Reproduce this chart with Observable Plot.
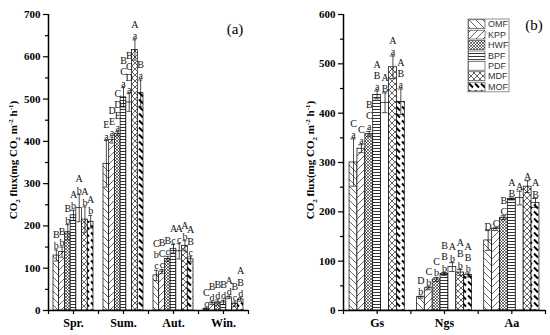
<!DOCTYPE html>
<html><head><meta charset="utf-8">
<script src="https://cdn.jsdelivr.net/npm/d3@7"></script>
<script src="https://cdn.jsdelivr.net/npm/@observablehq/plot@0.6"></script>
<style>
body{margin:0;background:#fff}
#chart{position:relative;width:550px;height:335px;background:#fff}
#chart svg{position:absolute;top:0}
g[aria-label="x-axis tick label"] text, g[aria-label="y-axis tick label"] text{font-weight:bold}
</style>
</head><body><div id="chart"></div>
<script>
// ---- data ----
const series = ["OMF","KPP","HWF","BPF","PDF","MDF","MOF"];
const seasons = ["Spr.","Sum.","Aut.","Win."];
const sprFlux = [130,138,185,225,242,215,210];
const sumFlux = [347,403,418,504,492,616,514];
const autFlux = [83,92,122,146,140,153,121];
const winFlux = [4,17,19,19,31,15,26];
const sprErr = [13,12,18,12,32,30,15];
const sumErr = [55,7,5,23,21,24,31];
const autErr = [12,5,6,10,18,12,6];
const winErr = [2,3,6,5,3,5,4];
const sprLetters = ["B\nb","B\nb","B\nb","A\nb","A\nb","A\nb","A\nb"];
const sumLetters = ["E\na","D\nE\na","C\nD\nE\na","B\nC\na","B\nC\nD\na","A\na","B\na"];
const autLetters = ["C\nb\nc","B\nC\nc","B\nc","A\nc","A\nc","A\nb","A\nB\nc"];
const winLetters = ["C\nc","B\nd","B\nd","B\nd","A\nd","B\nc","A\nB\nd"];

const periods = ["Gs","Ngs","Aa"];
const gsFlux = [300,328,358,437,421,493,423];
const ngsFlux = [27,45,63,74,88,77,72];
const aaFlux = [142,165,188,226,228,251,218];
const gsErr = [48,8,5,8,20,23,26];
const ngsErr = [2,3,4,3,9,6,4];
const aaErr = [20,3,4,2,14,12,9];
const gsLetters = ["C\na","C\na","B\nC\na","A\nB\na","A\nB","A\na","A\nB\na"];
const ngsLetters = ["D\nb","C\nb","C\nb","B\nB\nb","A\nb","A\nB\nb","A\nB\nb"];
const aaLetters = ["D","C","B\nC","A\nB","A","A","A\nB"];

const leftTicks = d3.range(0, 701, 100);
const rightTicks = d3.range(0, 601, 100);

// ---- helpers ----
function addPatterns(svg, p) {
  const defs = svg.insert("defs", ":first-child");
  const mk = (id, w, h, d, sw) => {
    const pat = defs.append("pattern").attr("id", p + id)
      .attr("patternUnits", "userSpaceOnUse").attr("width", w).attr("height", h);
    pat.append("rect").attr("width", w).attr("height", h).attr("fill", "white");
    if (d) pat.append("path").attr("d", d).attr("stroke", "#000").attr("stroke-width", sw).attr("fill", "none");
  };
  mk("OMF", 7, 7, "M0,0L7,7M-1,6L1,8M6,-1L8,1", 0.6);
  mk("KPP", 7, 7, "M0,7L7,0M-1,1L1,-1M6,8L8,6", 0.6);
  mk("HWF", 3, 3, "M0,0L3,3M0,3L3,0", 0.55);
  mk("BPF", 4, 3, "M0,1.5H4", 0.8);
  mk("PDF", 4, 4, null, 0);
  mk("MDF", 6, 6, "M0,0L6,6M0,6L6,0", 0.6);
  mk("MOF", 6, 7, "M1,1.5L5,5.5", 1.9);
}

function yTitle(svg, x, y) {
  const t = svg.append("text").attr("transform", `translate(${x},${y}) rotate(-90)`)
    .attr("text-anchor", "middle").attr("font-family", "Liberation Serif")
    .attr("font-weight", "bold").attr("font-size", 11).attr("fill", "#000");
  t.append("tspan").text("CO");
  t.append("tspan").attr("font-size", 7).attr("dy", 3).text("2");
  t.append("tspan").attr("dy", -3).text(" flux(mg CO");
  t.append("tspan").attr("font-size", 7).attr("dy", 3).text("2");
  t.append("tspan").attr("dy", -3).text(" m");
  t.append("tspan").attr("font-size", 7).attr("dy", -4).text("-2");
  t.append("tspan").attr("dy", 4).text(" h");
  t.append("tspan").attr("font-size", 7).attr("dy", -4).text("-1");
  t.append("tspan").attr("dy", 4).text(")");
}

function panel({cats, vals, errs, labs, ticks, width, marginLeft, marginRight, group, idp}) {
  const n = series.length, bw = group / n;
  const rows = [];
  cats.forEach((c, ci) => series.forEach((s, si) =>
    rows.push({ci, si, s, v: vals[ci][si], e: errs[ci][si], lab: labs[ci][si]})));
  const left = d => d.ci + 0.5 - group / 2 + d.si * bw;
  const mid = d => left(d) + bw / 2;
  const cap = bw * 0.35;
  const yMax = ticks[ticks.length - 1];
  return Plot.plot({
    width, height: 335, marginLeft, marginRight, marginTop: 14, marginBottom: 25,
    x: {domain: [0, cats.length], axis: null, label: null},
    y: {domain: [0, yMax], axis: null, label: null},
    style: {fontFamily: "Liberation Serif", fontSize: "11px", background: "transparent", overflow: "visible", color: "#000"},
    marks: [
      Plot.rectY(rows, {x1: left, x2: d => left(d) + bw, y1: 0, y2: "v",
        fill: d => `url(#${idp}${d.s})`, stroke: "#000", strokeWidth: 0.7}),
      Plot.ruleX(rows, {x: mid, y1: d => Math.max(0, d.v - d.e), y2: d => d.v + d.e, stroke: "#000", strokeWidth: 0.7}),
      Plot.ruleY(rows, {y: d => d.v + d.e, x1: d => mid(d) - cap, x2: d => mid(d) + cap, stroke: "#000", strokeWidth: 0.7}),
      Plot.ruleY(rows, {y: d => Math.max(0, d.v - d.e), x1: d => mid(d) - cap, x2: d => mid(d) + cap, stroke: "#000", strokeWidth: 0.7}),
      Plot.text(rows, {x: mid, y: d => d.v + d.e, text: "lab", lineAnchor: "bottom", dy: -1,
        fontSize: 10, fontWeight: "normal", lineHeight: 1.12, fill: "#111"}),
      Plot.axisY(ticks, {tickSize: 5, tickPadding: 3, tickFormat: d3.format("d"), label: null,
        fontSize: 11, fontWeight: "bold", stroke: "#000", strokeWidth: 1.2}),
      Plot.axisY(d3.range(50, yMax, 100), {tickSize: 3, tickFormat: () => "", label: null, stroke: "#000", strokeWidth: 1.2}),
      Plot.axisX(cats.map((c, i) => i + 0.5), {tickSize: 4, tickPadding: 4, tickFormat: d => cats[Math.floor(d)], label: null,
        fontSize: 12, fontWeight: "bold", stroke: "#000", strokeWidth: 1.2}),
      Plot.axisX(d3.range(0, cats.length + 1), {tickSize: 4, tickFormat: () => "", label: null, stroke: "#000", strokeWidth: 1.2}),
      Plot.ruleX([0], {stroke: "#000", strokeWidth: 1.5}),
      Plot.ruleY([0], {stroke: "#000", strokeWidth: 1.5})
    ]
  });
}

// ---- panel (a) ----
const chart = document.getElementById("chart");
const pa = panel({
  cats: seasons,
  vals: [sprFlux, sumFlux, autFlux, winFlux],
  errs: [sprErr, sumErr, autErr, winErr],
  labs: [sprLetters, sumLetters, autLetters, winLetters],
  ticks: leftTicks, width: 275, marginLeft: 48, marginRight: 27, group: 0.8, idp: "pa-"
});
pa.style.left = "0px";
chart.appendChild(pa);
const sa = d3.select(pa);
addPatterns(sa, "pa-");
yTitle(sa, 17, 160);
sa.append("text").attr("x", 235).attr("y", 34).attr("text-anchor", "middle")
  .attr("font-family", "Liberation Serif").attr("font-size", 15).text("(a)");

// ---- panel (b) ----
const pb = panel({
  cats: periods,
  vals: [gsFlux, ngsFlux, aaFlux],
  errs: [gsErr, ngsErr, aaErr],
  labs: [gsLetters, ngsLetters, aaLetters],
  ticks: rightTicks, width: 275, marginLeft: 68, marginRight: 5, group: 0.82, idp: "pb-"
});
pb.style.left = "275px";
chart.appendChild(pb);
const sb = d3.select(pb);
addPatterns(sb, "pb-");
yTitle(sb, 39, 160);
sb.append("text").attr("x", 259).attr("y", 30).attr("text-anchor", "middle")
  .attr("font-family", "Liberation Serif").attr("font-size", 15).text("(b)");

// legend
const lg = sb.append("g").attr("transform", "translate(193,19)");
const ih = 10.4;
lg.append("rect").attr("width", 41).attr("height", ih * series.length).attr("fill", "white")
  .attr("stroke", "#777").attr("stroke-width", 0.8);
series.forEach((s, i) => {
  lg.append("rect").attr("x", 0.5).attr("y", i * ih + 0.8).attr("width", 16.5).attr("height", ih - 1.6)
    .attr("fill", `url(#pb-${s})`).attr("stroke", "#333").attr("stroke-width", 0.6);
  lg.append("text").attr("x", 20).attr("y", i * ih + ih / 2).attr("dy", "0.35em")
    .attr("text-anchor", "start")
    .attr("font-family", "Liberation Sans").attr("font-size", 9).attr("fill", "#333").text(s);
});
</script>
</body></html>
